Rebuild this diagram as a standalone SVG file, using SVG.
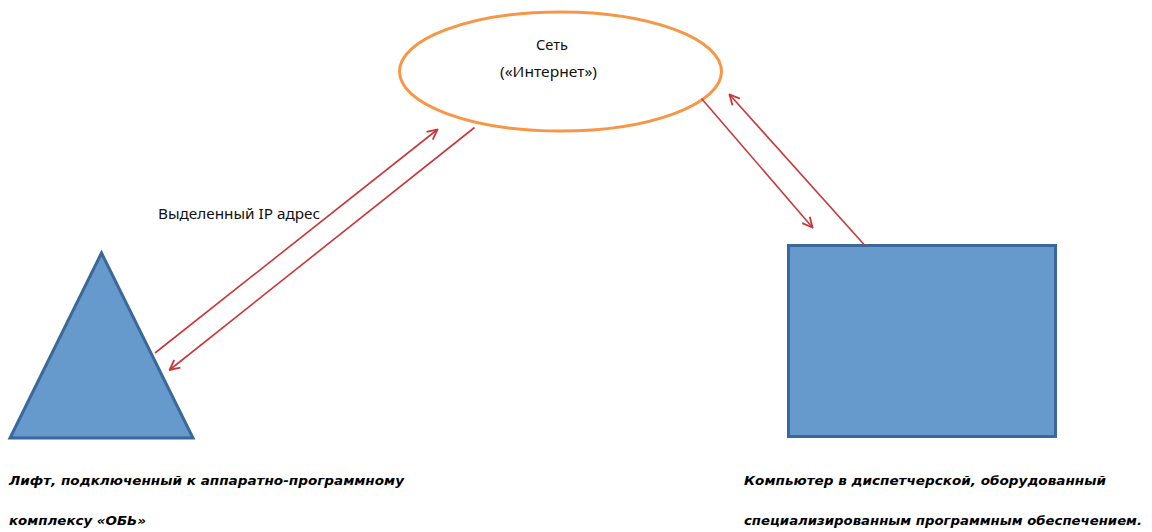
<svg xmlns="http://www.w3.org/2000/svg" width="1152" height="532" viewBox="0 0 1152 532">
<style>
.shape{fill:#6699CC;stroke:#3A6898;stroke-width:3}
.conn{stroke:#C9373A;stroke-width:1.6;fill:none;marker-end:url(#arr)}
.lbl{font-family:"Noto Sans","DejaVu Sans",sans-serif;font-size:14px;fill:#111}
.cap{font-family:"DejaVu Sans",sans-serif;font-size:13px;font-weight:bold;font-style:italic;fill:#000}
</style>
<defs>
<marker id="arr" markerWidth="12" markerHeight="12" viewBox="0 0 12 12" refX="11" refY="6" orient="auto" markerUnits="userSpaceOnUse">
<path d="M1,1 L11,6 L1,11" fill="none" stroke="#C9373A" stroke-width="1.8"/>
</marker>
</defs>
<rect width="1152" height="532" fill="#fff"/>
<g id="internet">
<ellipse cx="560.5" cy="71.5" rx="161" ry="59.5" fill="#fff" stroke="#F79646" stroke-width="3"/>
<text class="lbl" x="536" y="50" textLength="32" lengthAdjust="spacingAndGlyphs">Сеть</text>
<text class="lbl" x="500" y="77" textLength="97" lengthAdjust="spacingAndGlyphs">(«Интернет»)</text>
</g>
<g id="lift">
<polygon class="shape" points="101.5,253 10,438 193,438"/>
</g>
<g id="computer">
<rect class="shape" x="788.5" y="245.5" width="267" height="191"/>
</g>
<g id="connectors">
<line class="conn" x1="155" y1="353" x2="437.5" y2="129.5"/>
<line class="conn" x1="474.5" y1="127.5" x2="169.5" y2="370"/>
<line class="conn" x1="701.5" y1="98.5" x2="812.5" y2="227.5"/>
<line class="conn" x1="864.5" y1="245" x2="729.5" y2="94.5"/>
</g>
<text class="lbl" x="158" y="219" textLength="162" lengthAdjust="spacingAndGlyphs">Выделенный IP адрес</text>
<g id="captions">
<text class="cap" x="9" y="485" textLength="395" lengthAdjust="spacingAndGlyphs">Лифт, подключенный к аппаратно-программному</text>
<text class="cap" x="9" y="525" textLength="137" lengthAdjust="spacingAndGlyphs">комплексу «ОБЬ»</text>
<text class="cap" x="744" y="485" textLength="362" lengthAdjust="spacingAndGlyphs">Компьютер в диспетчерской, оборудованный</text>
<text class="cap" x="744" y="525" textLength="398" lengthAdjust="spacingAndGlyphs">специализированным программным обеспечением.</text>
</g>
</svg>
